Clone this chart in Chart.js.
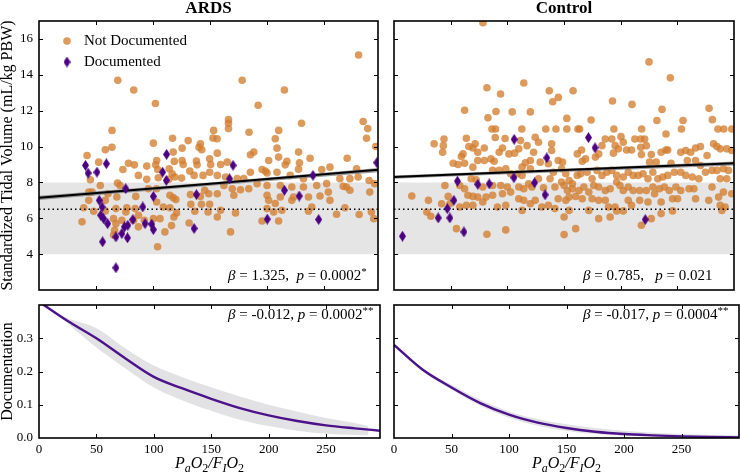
<!DOCTYPE html>
<html>
<head>
<meta charset="utf-8">
<script src="https://cdn.jsdelivr.net/npm/chart.js@4.4.1/dist/chart.umd.min.js"></script>
<style>
  body { margin: 0; background: #fff; }
  #wrap { position: relative; width: 740px; height: 474px; overflow: hidden; }
  canvas { position: absolute; }
</style>
</head>
<body>
<div id="wrap">
  <canvas id="ardsTop" width="384" height="296" style="left:0;top:0"></canvas>
  <canvas id="ctrlTop" width="354" height="296" style="left:386px;top:0"></canvas>
  <canvas id="ardsBot" width="384" height="176" style="left:0;top:298px"></canvas>
  <canvas id="ctrlBot" width="354" height="176" style="left:386px;top:298px"></canvas>
</div>
<script>
// tick labels
const xTicks = [0, 50, 100, 150, 200, 250];
const yTicksTop = [4, 6, 8, 10, 12, 14, 16];
const yTicksBot = [0, 0.1, 0.2, 0.3];

// reference band and target line (mL/kg PBW)
const bandLow = 4, bandHigh = 8, target = 6.5;

// ARDS: [PaO2/FiO2, tidal volume]
const ardsNotDoc = [
  [69,13.7],[83,13.15],[64,10.9],[102,12.4],[178,13.7],[192,12.3],[166,11.5],[166,11.3],[166,11],[215,13.15],
  [230,11.3],[280,15.1],[284,11.4],[288,11],[184,10.8],[210,10.9],[153,10.9],[295,10],
  [117,10.46],[100.2,10.19],[130.7,10.33],[141.4,10.15],[140.2,9.96],[142.6,9.82],[125.4,9.91],[117.6,9.69],
  [63.9,9.96],[58.1,9.82],[152.4,10.48],[42.1,9.5],[52.3,9.13],[78.4,9.07],[83.6,8.98],[94.4,8.91],[103.1,9.22],
  [102.2,8.98],[118.5,9.17],[125.4,9.22],[126.3,9],[137.9,9.19],[138.5,8.98],[149.5,9.32],[150.4,9],[114.1,8.76],
  [116.7,8.48],[73.5,8.72],[104,8.72],[119,8.3],[124.9,8.24],[132.1,8.63],[135.9,8.39],[143.7,8.39],[149.5,8.57],
  [45,8.15],[53.7,7.83],[94.4,8.17],[104.5,8.26],[113.8,8.17],[87.1,8.39],[46.5,7.46],[68.8,7.96],[71.1,7.83],
  [60.4,7.37],[68.2,7.19],[84.8,7.22],[95.8,7.65],[103.1,7.65],[114.7,7.28],[117.6,7.15],[119.9,7.04],[132.7,7.32],
  [141.4,7.22],[145.2,7.56],[148.7,7.37],[43.6,7],[58.1,7],[39.2,6.59],[47.9,6.39],[58.1,6.41],[67.4,6.54],
  [76.9,6.59],[76.1,6.35],[84.2,6.54],[103.1,6.91],[108.9,6.63],[114.7,6.59],[133,6.78],[142.3,6.78],[149.5,6.78],
  [136.5,6.39],[148.1,6.35],[43.6,7.46],[37.7,5.8],[65.3,5.98],[67.4,5.7],[72.6,5.89],[82.8,5.89],[87.1,6.17],
  [92.3,5.89],[100.2,5.98],[106,5.98],[118.2,6.07],[120.5,6.3],[116.1,5.59],[110.3,5.24],[131.5,5.74],[66.2,5.33],
  [87.1,5.52],[103.9,4.41],[65.3,5.06],
  [156,10.43],[287,10.46],[207,10.43],[208.5,9.91],[227.4,9.69],[209.9,9.41],[185.2,9.54],[188.2,9.69],[156.2,9.63],
  [164.9,9.13],[159.1,9],[201.2,9.22],[217.2,9.17],[215.7,8.98],[228.2,9.09],[237.5,9.35],[270,9.35],[156.2,8.39],
  [163.5,8.3],[173.6,8.21],[179.4,8.21],[185.2,8.57],[195.4,8.72],[198.3,8.63],[199.8,8.52],[208.5,8.57],[220.1,8.39],
  [227.4,8.74],[231.7,8.21],[247.7,8.72],[254.9,8.85],[263.6,8.21],[272.4,8.21],[278.2,8.76],[279.6,8.3],[269.4,7.74],
  [272.4,7.56],[289.2,8.11],[294.1,7.93],[162,7.83],[169.3,7.65],[176.5,7.59],[183.8,7.65],[191.1,7.93],[199.8,7.83],
  [211.4,7.83],[221.5,7.74],[231.7,7.74],[243.3,7.83],[252,7.93],[253.5,7.46],[266.5,7.78],[289.8,7.46],[156.2,7.37],
  [170.7,7.28],[199.8,7.28],[201.2,7],[207,6.82],[211.4,7.19],[221.5,7],[223,7.19],[236.1,7.19],[246.2,7.24],
  [254.9,7],[156.2,6.07],[159.1,6.45],[172.2,6.3],[199.8,6.54],[205.6,6.35],[212.8,6.45],[236.1,6.39],[239,6.63],
  [260.7,6.22],[268,6.59],[280.5,6.21],[291.2,6.35],[293.3,5.98],[195.4,5.85],[209.9,5.85],[167.8,5.24]
];
const ardsDoc = [
  [40.7,8.95],[43,8.52],[50.8,8.57],[59,9.04],[111.8,9.56],[108.3,8.57],[111.5,8.11],[76,7.65],[100.2,7.22],
  [137.9,7.32],[52.8,7],[55.2,6.63],[54,6.17],[56.6,5.98],[60.1,5.7],[90.9,6.63],[77.8,5.61],[74.9,5.52],[72.6,5.15],
  [67.4,4.96],[77.5,4.91],[82.2,5.93],[92.9,5.7],[98.7,5.67],[100.2,5.37],[135.9,5.43],[55.7,4.69],[67.4,3.24],
  [167,8.2],[170,8.95],[215,7.56],[228,7.24],[240,8.39],[245,5.93],[200,5.95],[296,9.1]
];

// Control
const ctrlNotDoc = [
  [78.5,16.9],[225,14.72],[243.8,13.83],[82,13.28],[114.5,13.54],[94,12.93],[137,13.11],[158,13.11],[145,12.74],
  [140,12.5],[192.8,12.54],[210,12.35],[62.3,12.02],[90,11.95],[104.3,11.93],[120.3,11.93],[82.9,11.6],[236.5,12.07],
  [278,12.13],[280.9,11.5],[232,11.45],[152.5,11.57],[173.9,11.48],[255,11.45],[86.4,10.98],[89.6,10.98],[112.8,10.98],
  [162.3,10.98],[163.8,10.98],[133.9,10.98],[142.9,10.98],[152.5,10.98],[194,10.98],[218.5,10.98],[253.6,10.98],
  [285.8,10.98],[291,10.98],[298,10.98],[240,10.7],[89.3,10.5],[98,10.45],[66,10],
  [35.4,10.15],[44.1,10.42],[43.5,10.05],[42.9,9.68],[63.8,10.46],[71.6,10.15],[79.7,9.92],[73.9,9.68],[69.6,9.92],
  [60.9,9.59],[59.4,9.44],[52.2,9.07],[56.5,9],[62.3,9.07],[69.6,8.85],[73.9,9.22],[79.7,9.22],[85.5,9.31],[88.4,9.18],
  [92.8,9.68],[95.7,9.92],[101.4,9.59],[106.4,9.63],[110.1,9.87],[111.6,10.33],[117.4,10.05],[124.6,10.52],[127.5,10.24],
  [123.2,9.68],[120.3,9.22],[115.9,9.09],[113,8.85],[120.3,8.76],[129,9.13],[136.2,9.04],[139.1,9.78],[139.1,10.15],
  [144.9,9.22],[147.8,8.76],[68.1,8.2],[72.5,8.15],[78.3,7.74],[87,8.67],[92.8,8.67],[98.6,8.76],[102.9,8.48],
  [108.7,8.48],[113,8.39],[118.8,7.92],[127.5,8.2],[137.7,8.2],[140.6,8.57],[147.8,8.02],[87,7.83],[94.2,7.83],
  [100,7.74],[110.1,7.74],[114.5,7.65],[121.7,7.74],[131.9,7.7],[142,7.74],[58,7.83],[62.3,7.65],[65.2,7.28],
  [69.6,7.22],[73.9,7.18],[81.2,7.18],[87,7.28],[95.7,7.37],[102.9,7.46],[110.1,7.09],[114.5,7],[124.6,7],
  [136.2,6.72],[144.9,7.09],[44.9,7.83],[47.8,7.22],[30.4,7],[15.7,7.24],[29,6.35],[32.5,6.11],[42,6.81],[49.3,6.81],
  [58,6.63],[63.8,6.72],[69.6,6.72],[78.3,6.91],[91.3,6.63],[98.6,6.72],[113,6.44],[130.4,6.63],[142,6.54],
  [55.1,5.42],[82,5.11],[98.6,5.35],[120.3,6.81],
  [165.5,9.81],[161.7,9.59],[166.1,9.18],[169,9.31],[177.7,9.41],[180.6,9.59],[183.5,10.05],[186.4,10.42],[192.2,10.42],
  [195.1,10.05],[193.6,9.63],[200.3,10.55],[202.3,10.24],[198,9.87],[205.2,9.81],[209.6,9.81],[212.5,10.42],[217.7,10.42],
  [221.2,10.42],[217.7,9.96],[218.3,9.55],[222.6,10.05],[227,9.55],[225.5,9.13],[231.3,9.13],[235.7,9.68],[240,9.81],
  [241.5,9.81],[244.4,9.07],[253,9.68],[257.4,9.78],[261.7,9.68],[266.1,9.92],[270.4,10],[282,10.15],[285,10],
  [287.8,9.87],[293.6,9.87],[298,9.78],[276.2,9.5],[266.1,9.22],[258.8,9.22],[270.4,8.94],[280.6,8.67],[285,8.67],
  [290.7,8.76],[295.1,8.67],[148.7,9.13],[151.6,8.48],[154.5,8.11],[157.4,7.92],[161.7,8.39],[164.6,8.48],[170.4,8.57],
  [174.8,8.2],[179.1,8.67],[183.5,8.39],[187.8,8.57],[192.2,8.67],[196.5,8.39],[202.3,8.3],[206.7,8.57],[211,8.39],
  [215.4,8.39],[219.7,8.48],[224.1,8.2],[228.4,8.57],[232.8,8.2],[237.1,8.3],[241.5,8.39],[247.3,8.57],[253,8.57],
  [257.4,8.39],[263.2,8.3],[269,8.2],[274.8,8.57],[287.8,8.2],[293.6,8.2],[150.1,7.83],[153,7.55],[157.4,7.65],
  [163.2,7.55],[167.5,7.74],[171.9,7.46],[176.2,7.83],[180.6,7.74],[186.4,7.55],[190.7,7.65],[196.5,8.02],[199.4,7.83],
  [202.3,7.55],[206.7,7.74],[211,7.55],[216.8,7.55],[222.6,7.55],[228.4,7.74],[234.2,7.65],[238.6,7.74],[242.9,7.55],
  [248.7,7.74],[253,7.55],[260.3,7.65],[264.6,7.65],[280.6,7.74],[290.7,7.46],[298,7.37],[286.4,7.18],[151.6,7],
  [154.5,7.18],[160.3,7.22],[166.1,7.09],[174.8,7.09],[180.6,7],[186.4,7],[189.3,6.63],[195.1,6.63],[206.7,7],
  [209.6,6.72],[216.8,7],[224.1,6.91],[229.9,7.37],[235.7,6.91],[245.8,7.09],[250.2,7.09],[266.1,7.09],[277.7,7],
  [287.8,6.72],[292.2,6.63],[150.1,6.07],[154.5,6.44],[171.9,6.44],[180.6,5.98],[190.7,6.07],[196.5,6.41],[202.3,6.41],
  [227,5.98],[218.3,5.61],[235.7,6.26],[245.8,6.41],[289.3,6.44],[160.3,5.42],[150.1,5.09]
];
const ctrlDoc = [
  [7.5,5],[39,6.02],[47,6.54],[49.3,6.02],[52.8,7],[56,8.07],[61.7,5.24],[73.9,7.89],[84,7.92],[105.8,8.26],
  [106,10.4],[124,7.98],[133.3,7.31],[134.8,9.37],[171.6,10.5],[177.4,9.93],[221.7,5.93]
];

// linear fits with confidence band
const ardsFitX = [0, 150, 297];
const ardsFit = [7.15, 7.93, 8.7];
const ardsFitLo = [7.02, 7.82, 8.56];
const ardsFitHi = [7.25, 8.0, 8.8];
const ctrlFitX = [0, 150, 300];
const ctrlFit = [8.3, 8.69, 9.07];
const ctrlFitLo = [8.2, 8.58, 8.94];
const ctrlFitHi = [8.38, 8.76, 9.17];

// probability of documentation
const ardsProbX = [0, 25, 50, 75, 100, 125, 150, 175, 200, 225, 250, 275, 297];
const ardsProb = [0.41, 0.352, 0.30, 0.24, 0.184, 0.149, 0.118, 0.09, 0.068, 0.051, 0.038, 0.029, 0.022];
const ardsBandX = [20, 25, 50, 75, 100, 125, 150, 175, 200, 225, 250, 275, 287];
const ardsProbHi = [0.368, 0.36, 0.33, 0.27, 0.218, 0.183, 0.153, 0.125, 0.1, 0.08, 0.06, 0.045, 0.035];
const ardsProbLo = [0.362, 0.345, 0.272, 0.21, 0.152, 0.113, 0.082, 0.055, 0.036, 0.022, 0.013, 0.009, 0.008];
const ctrlProbX = [0, 25, 50, 75, 100, 125, 150, 175, 200, 225, 250, 275, 300];
const ctrlProb = [0.28, 0.205, 0.152, 0.105, 0.07, 0.046, 0.03, 0.019, 0.012, 0.008, 0.005, 0.003, 0.002];
const ctrlProbHi = [0.283, 0.21, 0.16, 0.115, 0.08, 0.057, 0.041, 0.03, 0.022, 0.016, 0.012, 0.009, 0.008];
const ctrlProbLo = [0.277, 0.2, 0.145, 0.097, 0.061, 0.037, 0.021, 0.012, 0.007, 0.004, 0.002, 0.001, 0.001];

const SERIF = '"Liberation Serif", "Times New Roman", serif';
const ORANGE = 'rgba(210,126,48,0.78)';
const PURPLE = '#4b0082';

const pts = arr => arr.map(p => ({ x: p[0], y: p[1] }));
const zip = (xs, ys) => xs.map((x, i) => ({ x: x, y: ys[i] }));

function makeDiamond(w, h, color) {
  const c = document.createElement('canvas');
  c.width = w; c.height = h;
  const g = c.getContext('2d');
  g.fillStyle = color;
  g.beginPath();
  g.moveTo(w / 2, 0); g.lineTo(w, h / 2); g.lineTo(w / 2, h); g.lineTo(0, h / 2);
  g.closePath(); g.fill();
  return c;
}
const diamond = makeDiamond(7, 11, PURPLE);

// text with italics / sub / superscripts
function rich(ctx, parts, x, y, size, align) {
  const font = p => (p.i ? 'italic ' : '') + Math.round(p.s ? size * 0.72 : size) + 'px ' + SERIF;
  let w = 0;
  parts.forEach(p => { ctx.font = font(p); w += ctx.measureText(p.t).width; });
  let cx = align === 'center' ? x - w / 2 : x;
  ctx.textAlign = 'left';
  ctx.textBaseline = 'alphabetic';
  parts.forEach(p => {
    ctx.font = font(p);
    const dy = p.s === 'sub' ? size * 0.25 : p.s === 'sup' ? -size * 0.35 : 0;
    ctx.fillText(p.t, cx, y + dy);
    cx += ctx.measureText(p.t).width;
  });
}

const xTitle = [
  { t: 'P', i: 1 }, { t: 'a', i: 1, s: 'sub' }, { t: 'O', i: 1 }, { t: '2', s: 'sub' },
  { t: '/', i: 1 }, { t: 'F', i: 1 }, { t: 'I', i: 1, s: 'sub' }, { t: 'O', i: 1 }, { t: '2', s: 'sub' }
];

const deco = {
  id: 'deco',
  afterDatasetsDraw(chart, args, o) {
    const { ctx, chartArea: a, scales } = chart;
    ctx.save();
    ctx.fillStyle = '#000';
    ctx.strokeStyle = '#000';
    // inward ticks on all sides
    ctx.lineWidth = 1;
    ctx.beginPath();
    xTicks.forEach(v => {
      const px = Math.round(scales.x.getPixelForValue(v)) + 0.5;
      if (px < a.left + 2) return;
      ctx.moveTo(px, a.top); ctx.lineTo(px, a.top + 4);
      ctx.moveTo(px, a.bottom); ctx.lineTo(px, a.bottom - 4);
    });
    o.yTicks.forEach(v => {
      const py = Math.round(scales.y.getPixelForValue(v)) + 0.5;
      if (py > a.bottom - 2) return;
      ctx.moveTo(a.left, py); ctx.lineTo(a.left + 4, py);
      ctx.moveTo(a.right, py); ctx.lineTo(a.right - 4, py);
    });
    ctx.stroke();
    ctx.lineWidth = 1.6;
    ctx.strokeRect(a.left, a.top, a.right - a.left, a.bottom - a.top);

    // annotation
    const ny = o.noteTop ? a.top + 14 : a.bottom - 10;
    rich(ctx, o.note, a.left + 189, ny, 15, 'left');

    if (o.title) {
      ctx.font = 'bold 17px ' + SERIF;
      ctx.textAlign = 'center';
      ctx.textBaseline = 'alphabetic';
      ctx.fillText(o.title, (a.left + a.right) / 2, 13);
    }
    if (o.yTitle) {
      ctx.save();
      ctx.translate(8, (a.top + a.bottom) / 2);
      ctx.rotate(-Math.PI / 2);
      ctx.font = '16px ' + SERIF;
      ctx.textAlign = 'center';
      ctx.textBaseline = 'middle';
      ctx.fillText(o.yTitle, 0, 0);
      ctx.restore();
    }
    if (o.xTitle) rich(ctx, xTitle, (a.left + a.right) / 2, 170, 16, 'center');
    if (o.legend) {
      ctx.fillStyle = ORANGE;
      ctx.beginPath(); ctx.arc(67, 41, 3.8, 0, Math.PI * 2); ctx.fill();
      ctx.drawImage(diamond, 67 - 3.5, 62 - 5.5);
      ctx.fillStyle = '#000';
      ctx.font = '15px ' + SERIF;
      ctx.textAlign = 'left';
      ctx.textBaseline = 'middle';
      ctx.fillText('Not Documented', 84, 41);
      ctx.fillText('Documented', 84, 62);
    }
    ctx.restore();
  }
};

function xScale(xMax, showLabels, height) {
  return {
    type: 'linear', min: 0, max: xMax,
    grid: { display: false, drawTicks: false }, border: { display: false },
    ticks: { display: showLabels, padding: 4, maxRotation: 0, autoSkip: false, color: '#000', font: { family: SERIF, size: 13 } },
    afterBuildTicks: s => { s.ticks = xTicks.map(v => ({ value: v })); },
    afterFit: s => { s.height = height; s.paddingLeft = 0; s.paddingRight = 0; }
  };
}
function yScale(min, max, ticks, showLabels, width, fmt) {
  return {
    type: 'linear', min: min, max: max,
    grid: { display: false, drawTicks: false }, border: { display: false },
    ticks: { display: showLabels, padding: 6, color: '#000', font: { family: SERIF, size: 13 }, callback: fmt },
    afterBuildTicks: s => { s.ticks = ticks.map(v => ({ value: v })); },
    afterFit: s => { s.width = width; s.paddingTop = 0; s.paddingBottom = 0; }
  };
}

function topChart(id, o) {
  return new Chart(document.getElementById(id), {
    type: 'scatter',
    data: {
      datasets: [
        { type: 'line', data: [{ x: 0, y: bandHigh }, { x: 300, y: bandHigh }], fill: { value: bandLow },
          backgroundColor: '#e5e5e5', borderWidth: 0, pointRadius: 0, order: 10 },
        { data: pts(o.notDoc), backgroundColor: ORANGE, borderWidth: 0, pointRadius: 3.8, order: 6 },
        { type: 'line', data: zip(o.fitX, o.fitHi), fill: '+1', backgroundColor: 'rgba(120,120,120,0.75)',
          borderWidth: 0, pointRadius: 0, order: 4 },
        { type: 'line', data: zip(o.fitX, o.fitLo), fill: false, borderWidth: 0, pointRadius: 0, order: 4 },
        { type: 'line', data: zip(o.fitX, o.fit), borderColor: '#000', borderWidth: 2, pointRadius: 0, fill: false, order: 3 },
        { type: 'line', data: [{ x: 0, y: target }, { x: 300, y: target }], borderColor: '#000', borderWidth: 1.5,
          borderDash: [1.5, 3], pointRadius: 0, fill: false, order: 2 },
        { data: pts(o.doc), pointStyle: diamond, pointRadius: 5, order: 1 }
      ]
    },
    options: {
      responsive: false, animation: false, events: [],
      layout: { padding: { top: 21, right: o.padR, left: 0, bottom: 0 } },
      scales: {
        x: xScale(o.xMax, false, 5),
        y: yScale(2, 17, yTicksTop, o.yLabels, o.yW)
      },
      plugins: {
        legend: { display: false }, tooltip: { enabled: false },
        deco: { yTicks: yTicksTop, note: o.note, title: o.title, yTitle: o.yTitle, legend: o.legend }
      }
    },
    plugins: [deco]
  });
}

function botChart(id, o) {
  return new Chart(document.getElementById(id), {
    type: 'line',
    data: {
      datasets: [
        { data: zip(o.bandX, o.hi), fill: '+1', backgroundColor: '#e2e2e4', borderWidth: 0, pointRadius: 0,
          cubicInterpolationMode: 'monotone', order: 3 },
        { data: zip(o.bandX, o.lo), fill: false, borderWidth: 0, pointRadius: 0, cubicInterpolationMode: 'monotone', order: 3 },
        { data: zip(o.probX, o.prob), borderColor: '#4b128a', borderWidth: 2.4, pointRadius: 0, fill: false,
          cubicInterpolationMode: 'monotone', order: 1 }
      ]
    },
    options: {
      responsive: false, animation: false, events: [],
      layout: { padding: { top: 7, right: o.padR, left: 0, bottom: 0 } },
      scales: {
        x: xScale(o.xMax, true, 36),
        y: yScale(0, 0.4, yTicksBot, o.yLabels, o.yW, v => v.toFixed(1))
      },
      plugins: {
        legend: { display: false }, tooltip: { enabled: false },
        deco: { yTicks: yTicksBot, note: o.note, noteTop: true, yTitle: o.yTitle, xTitle: true }
      }
    },
    plugins: [deco]
  });
}

topChart('ardsTop', {
  notDoc: ardsNotDoc, doc: ardsDoc, fitX: ardsFitX, fit: ardsFit, fitLo: ardsFitLo, fitHi: ardsFitHi,
  xMax: 297, yLabels: true, yW: 39, padR: 4, title: 'ARDS', legend: true,
  yTitle: 'Standardized Tidal Volume (mL/kg PBW)',
  note: [{ t: 'β', i: 1 }, { t: ' = 1.325,  ' }, { t: 'p', i: 1 }, { t: ' = 0.0002' }, { t: '*', s: 'sup' }]
});
topChart('ctrlTop', {
  notDoc: ctrlNotDoc, doc: ctrlDoc, fitX: ctrlFitX, fit: ctrlFit, fitLo: ctrlFitLo, fitHi: ctrlFitHi,
  xMax: 300, yLabels: false, yW: 8, padR: 1, title: 'Control', legend: false,
  note: [{ t: 'β', i: 1 }, { t: ' = 0.785,   ' }, { t: 'p', i: 1 }, { t: ' = 0.021' }]
});
botChart('ardsBot', {
  bandX: ardsBandX, hi: ardsProbHi, lo: ardsProbLo, probX: ardsProbX, prob: ardsProb,
  xMax: 297, yLabels: true, yW: 39, padR: 4, yTitle: 'Documentation',
  note: [{ t: 'β', i: 1 }, { t: ' = -0.012, ' }, { t: 'p', i: 1 }, { t: ' = 0.0002' }, { t: '**', s: 'sup' }]
});
botChart('ctrlBot', {
  bandX: ctrlProbX, hi: ctrlProbHi, lo: ctrlProbLo, probX: ctrlProbX, prob: ctrlProb,
  xMax: 300, yLabels: false, yW: 8, padR: 1,
  note: [{ t: 'β', i: 1 }, { t: ' = -0.017, ' }, { t: 'p', i: 1 }, { t: ' = 0.0004' }, { t: '**', s: 'sup' }]
});
</script>
</body>
</html>
